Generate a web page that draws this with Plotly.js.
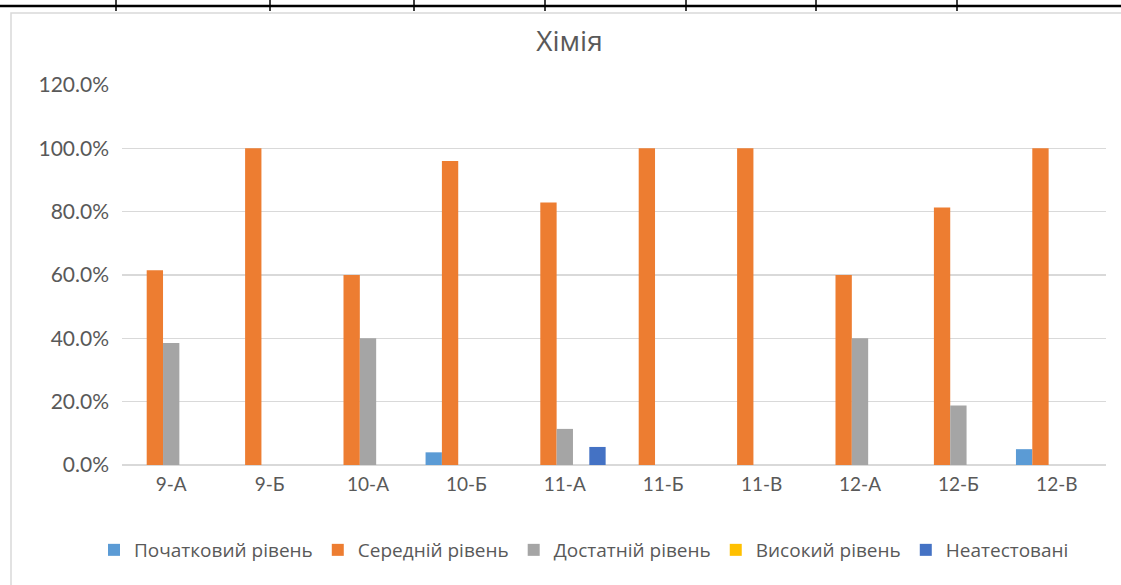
<!DOCTYPE html>
<html>
<head>
<meta charset="utf-8">
<script src="https://cdn.plot.ly/plotly-3.0.1.min.js"></script>
<style>html,body{margin:0;padding:0;background:#fff;}#chart{width:1121px;height:585px;}</style>
</head>
<body>
<div id="chart"></div>
<script>
const categories = ["9-А","9-Б","10-А","10-Б","11-А","11-Б","11-В","12-А","12-Б","12-В"];
const seriesNames = ["Початковий рівень","Середній рівень","Достатній рівень","Високий рівень","Неатестовані"];
const pochatkovyi = [0, 0, 0, 0.04, 0, 0, 0, 0, 0, 0.05];
const serednii    = [0.615, 1.0, 0.60, 0.96, 0.829, 1.0, 1.0, 0.60, 0.813, 1.0];
const dostatnii   = [0.385, 0, 0.40, 0, 0.114, 0, 0, 0.40, 0.188, 0];
const vysokyi     = [0, 0, 0, 0, 0, 0, 0, 0, 0, 0];
const neatestovani= [0, 0, 0, 0, 0.057, 0, 0, 0, 0, 0];
const yTicks = [0, 0.2, 0.4, 0.6, 0.8, 1.0, 1.2];
const yTickLabels = ["0.0%","20.0%","40.0%","60.0%","80.0%","100.0%","120.0%"];
const tableLinesX = [116, 270, 414, 545, 686, 816, 957];

const colors = ["#5B9BD5","#ED7D31","#A5A5A5","#FFC000","#4472C4"];
const values = [pochatkovyi, serednii, dostatnii, vysokyi, neatestovani];

const traces = values.map((v, i) => ({
  type: 'bar', x: categories, y: v, name: seriesNames[i],
  marker: {color: colors[i]}, hoverinfo: 'x+y+name'
}));

// pixel -> paper helpers (plot area 122..1106 x, 85..465 y)
const L = 122, R = 1106, T = 85, B = 465;
const px = p => (p - L) / (R - L);
const py = p => (B - p) / (B - T);

const shapes = [
  {type:'rect', xref:'paper', yref:'paper', x0:px(11), x1:px(1130), y0:py(13), y1:py(600),
   line:{color:'#d9d9d9', width:1.5}, fillcolor:'rgba(0,0,0,0)', layer:'below'},
  {type:'line', xref:'paper', yref:'paper', x0:px(0), x1:px(1121), y0:py(6), y1:py(6),
   line:{color:'#000', width:2.5}}
];
tableLinesX.forEach(x => shapes.push({type:'line', xref:'paper', yref:'paper',
  x0:px(x), x1:px(x), y0:py(0), y1:py(11), line:{color:'#000', width:1.5}}));

const layout = {
  width: 1121, height: 585,
  margin: {l: L, r: 1121 - R, t: T, b: 585 - B},
  paper_bgcolor: '#fff', plot_bgcolor: '#fff',
  font: {family: 'Lato, "Open Sans", sans-serif', color: '#595959', size: 19},
  title: {text: 'Хімія', x: 569.5/1121, xref: 'container', xanchor: 'center',
          y: 1 - 41/585, yref: 'container', yanchor: 'middle',
          font: {family: '"Open Sans", sans-serif', size: 28, color: '#595959'}},
  barmode: 'group', bargap: 0.17, bargroupgap: 0,
  xaxis: {type: 'category', showgrid: false, zeroline: false, showline: false,
          ticks: '', tickfont: {size: 19, color: '#595959'}, ticklabelstandoff: 6},
  yaxis: {range: [0, 1.2], tickvals: yTicks, ticktext: yTickLabels,
          showgrid: true, gridcolor: '#d9d9d9', gridwidth: 1.5,
          zeroline: true, zerolinecolor: '#d9d9d9', zerolinewidth: 1.5,
          showline: false, ticks: '', tickfont: {size: 21, color: '#595959'},
          ticklabelstandoff: 12},
  showlegend: true,
  legend: {orientation: 'h', xref: 'container', yref: 'container',
           x: 584/1121, xanchor: 'center', y: 1 - 550/585, yanchor: 'middle',
           font: {family: '"Open Sans", sans-serif', size: 19, color: '#595959'},
           itemwidth: 30, traceorder: 'normal'},
  shapes: shapes
};

Plotly.newPlot('chart', traces, layout, {displayModeBar: false, staticPlot: true});
</script>
</body>
</html>
